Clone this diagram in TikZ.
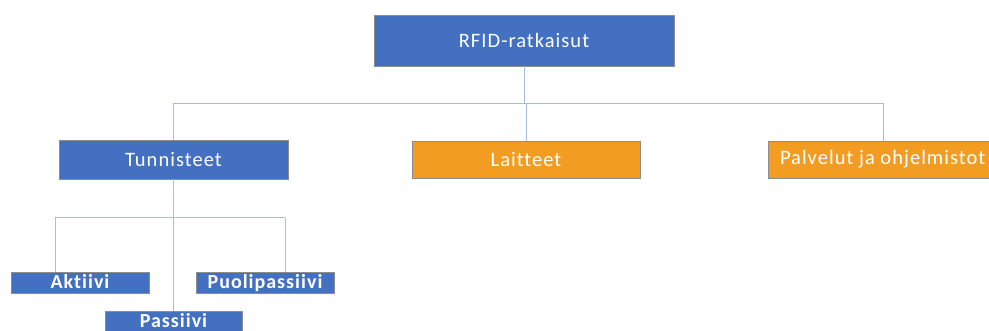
\documentclass[tikz,border=0pt]{standalone}
\usepackage{fontspec}
\setmainfont[Ligatures={NoCommon},LetterSpace=5]{Carlito}
\definecolor{boxblue}{HTML}{4470C2}
\definecolor{boxorange}{HTML}{F29D22}
\definecolor{linkblue}{HTML}{A9BDE2}
\begin{document}
\begin{tikzpicture}[x=1pt,y=-1pt,
  bluebox/.style={draw=black!45,line width=0.7pt,fill=boxblue,text=white,inner sep=0pt,font=\fontsize{20.5}{24}\selectfont},
  orangebox/.style={draw=black!45,line width=0.7pt,fill=boxorange,text=white,inner sep=0pt,font=\fontsize{20.5}{24}\selectfont},
  smallbox/.style={bluebox,font=\fontsize{20}{22}\selectfont\bfseries,text height=13pt,text depth=1pt},
  conn/.style={draw=linkblue,line width=1pt}]
\useasboundingbox (0,0) rectangle (989,331);
\clip (0,0) rectangle (989,331);
\fill[white] (0,0) rectangle (989,331);
\node[bluebox,minimum width=300pt,minimum height=51pt] (rfid) at (524,40.5) {RFID-ratkaisut};
\node[bluebox,minimum width=229pt,minimum height=39pt] (tun) at (173.5,159.5) {Tunnisteet};
\node[orangebox,minimum width=228pt,minimum height=37pt] (lai) at (526,159.5) {Laitteet};
\node[orangebox,minimum width=230pt,minimum height=37pt] (pal) at (883,159.5) {\makebox[230pt][l]{\hspace{12pt}Palvelut ja ohjelmistot}};
\node[smallbox,minimum width=138pt,minimum height=21pt] (akt) at (80,282.5) {Aktiivi};
\node[smallbox,minimum width=138pt,minimum height=21pt] (puo) at (265,282.5) {Puolipassiivi};
\node[smallbox,minimum width=137pt,minimum height=21pt] (pas) at (173.5,321.5) {Passiivi};
\coordinate (bus) at (524,104);
\coordinate (aktin) at (55,218);
\coordinate (puoin) at (285,218);
\draw[conn] (rfid.south) -- (bus);
\draw[conn] (tun.north) |- (bus);
\draw[conn] (bus) -| (pal.north);
\draw[conn] (lai.north) |- (bus);
\draw[conn] (tun.south) -- (pas.north);
\draw[conn] (aktin) -- (puoin);
\draw[conn] (aktin) -- (aktin |- akt.north);
\draw[conn] (puoin) -- (puoin |- puo.north);
\end{tikzpicture}
\end{document}
